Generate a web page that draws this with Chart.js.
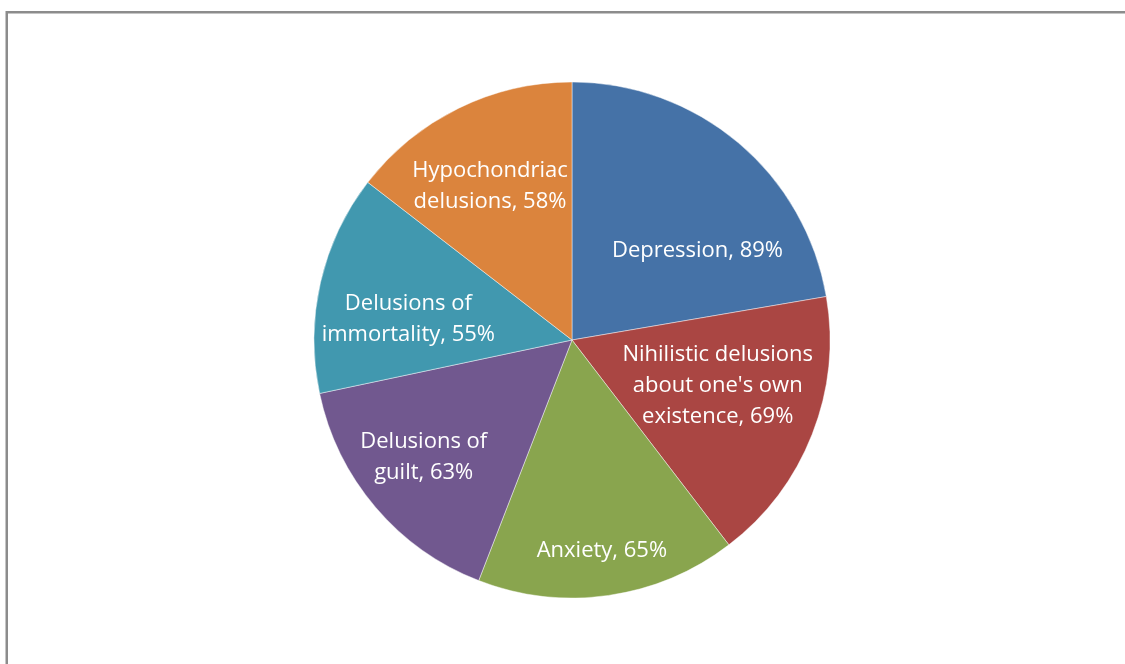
<!DOCTYPE html>
<html>
<head>
<meta charset="utf-8">
<script src="https://cdn.jsdelivr.net/npm/chart.js@4.4.0/dist/chart.umd.min.js"></script>
<style>
html,body{margin:0;padding:0;background:#fff;}
#wrap{position:relative;width:1125px;height:664px;}
</style>
</head>
<body>
<div id="wrap"><canvas id="c" width="1125" height="664"></canvas></div>
<script>
const categories = ["Depression", "Nihilistic delusions about one's own existence", "Anxiety", "Delusions of guilt", "Delusions of immortality", "Hypochondriac delusions"];
const values = [89, 69, 65, 63, 55, 58];
const labelLines = [
  ["Depression, 89%"],
  ["Nihilistic delusions", "about one's own", "existence, 69%"],
  ["Anxiety, 65%"],
  ["Delusions of", "guilt, 63%"],
  ["Delusions of", "immortality, 55%"],
  ["Hypochondriac", "delusions, 58%"]
];
const colors = ["#4572A7", "#AA4643", "#89A54E", "#71588F", "#4198AF", "#DB843D"];
// label placement styling: radial fraction and angular offset (deg) from slice mid-angle
const labelRadial = [0.60, 0.59, 0.82, 0.73, 0.64, 0.68];
const labelAngleOffset = [14, -4.6, 0, 2.3, -5.2, -1.7];

const framePlugin = {
  id: 'frame',
  beforeDraw(chart) {
    const ctx = chart.ctx;
    ctx.save();
    ctx.strokeStyle = '#8c8c8c';
    ctx.lineWidth = 2.5;
    ctx.strokeRect(6.75, 12.25, 2000, 2000);
    ctx.restore();
  }
};

const labelPlugin = {
  id: 'sliceLabels',
  afterDatasetsDraw(chart) {
    const ctx = chart.ctx;
    const meta = chart.getDatasetMeta(0);
    ctx.save();
    ctx.fillStyle = '#ffffff';
    ctx.textAlign = 'center';
    ctx.textBaseline = 'middle';
    ctx.font = '22px "Open Sans", sans-serif';
    const lh = 31;
    meta.data.forEach((arc, i) => {
      const p = arc.getProps(['x', 'y', 'startAngle', 'endAngle', 'outerRadius'], true);
      const mid = (p.startAngle + p.endAngle) / 2 + labelAngleOffset[i] * Math.PI / 180;
      const r = p.outerRadius * labelRadial[i];
      const cx = p.x + Math.cos(mid) * r;
      const cy = p.y + Math.sin(mid) * r + 1.5;
      const lines = labelLines[i];
      lines.forEach((t, k) => {
        ctx.fillText(t, cx, cy + (k - (lines.length - 1) / 2) * lh);
      });
    });
    ctx.restore();
  }
};

new Chart(document.getElementById('c'), {
  type: 'pie',
  data: {
    labels: categories,
    datasets: [{
      data: values,
      backgroundColor: colors,
      borderColor: 'rgba(255,255,255,0.6)',
      borderWidth: 0.75
    }]
  },
  options: {
    responsive: false,
    animation: false,
    radius: 258,
    layout: { padding: { top: 82, bottom: 66, left: 19, right: 0 } },
    plugins: { legend: { display: false }, tooltip: { enabled: false } }
  },
  plugins: [framePlugin, labelPlugin]
});
</script>
</body>
</html>
